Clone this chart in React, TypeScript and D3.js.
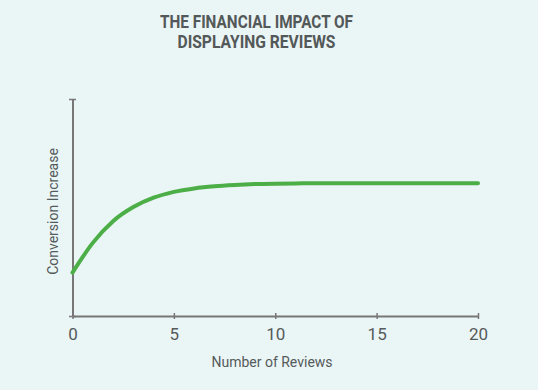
import React, { useEffect, useRef } from "react";
import * as d3 from "d3";

const W = 538;
const H = 390;

// number of reviews -> conversion increase (0..100 axis units)
const reviews = [0, 1, 2, 3, 4, 5, 6, 7, 8, 9, 10, 11, 12, 13, 14, 15, 16, 17, 18, 19, 20];
const conversion = [
  20.0, 33.7, 43.7, 50.2, 54.5, 57.2, 58.8, 59.8, 60.4, 60.8, 61.0, 61.1, 61.2, 61.2,
  61.2, 61.2, 61.2, 61.2, 61.2, 61.2, 61.2,
];
const xTicks = [0, 5, 10, 15, 20];
const titleLines = ["THE FINANCIAL IMPACT OF", "DISPLAYING REVIEWS"];
const titleWidths = [193, 158];

export default function App() {
  const ref = useRef<SVGSVGElement>(null);

  useEffect(() => {
    const svg = d3.select(ref.current);
    svg.selectAll("*").remove();

    svg.append("rect").attr("width", W).attr("height", H).attr("fill", "#eaf5f6");

    const x = d3.scaleLinear().domain([0, 20]).range([72.5, 478]);
    const y = d3.scaleLinear().domain([0, 100]).range([316, 99]);

    // title (condensed look via textLength)
    svg
      .append("g")
      .selectAll("text")
      .data(titleLines)
      .join("text")
      .attr("x", 256.5)
      .attr("y", (d, i) => 28 + i * 20)
      .attr("text-anchor", "middle")
      .attr("font-family", "Roboto, sans-serif")
      .attr("font-weight", "bold")
      .attr("font-size", 18.5)
      .attr("fill", "#535858")
      .attr("textLength", (d, i) => titleWidths[i])
      .attr("lengthAdjust", "spacingAndGlyphs")
      .text((d) => d);

    // x axis
    const xAxis = svg
      .append("g")
      .attr("transform", `translate(0, ${y(0)})`)
      .call(d3.axisBottom(x).tickValues(xTicks).tickSize(3).tickSizeOuter(0));
    xAxis.select(".domain").attr("stroke", "#777").attr("stroke-width", 2);
    xAxis
      .selectAll(".tick line")
      .attr("y1", -3)
      .attr("y2", 3)
      .attr("stroke", "#777")
      .attr("stroke-width", 1.5);
    xAxis
      .selectAll(".tick text")
      .attr("y", 24)
      .attr("dy", 0)
      .attr("font-family", "Roboto, sans-serif")
      .attr("font-size", 17)
      .attr("fill", "#555a5a");

    // y axis
    const yAxis = svg
      .append("g")
      .attr("transform", `translate(${x(0)}, 0)`)
      .call(d3.axisLeft(y).tickValues([0, 100]).tickFormat(() => "").tickSize(3).tickSizeOuter(0));
    yAxis.select(".domain").attr("stroke", "#777").attr("stroke-width", 2);
    yAxis
      .selectAll(".tick line")
      .attr("x1", -3.5)
      .attr("x2", 3.5)
      .attr("stroke", "#777")
      .attr("stroke-width", 1.5);

    // labels
    svg
      .append("text")
      .attr("x", 272)
      .attr("y", 367)
      .attr("text-anchor", "middle")
      .attr("font-family", "Roboto, sans-serif")
      .attr("font-size", 14)
      .attr("fill", "#555a5a")
      .text("Number of Reviews");

    svg
      .append("text")
      .attr("transform", "translate(58, 211.5) rotate(-90)")
      .attr("text-anchor", "middle")
      .attr("font-family", "Roboto, sans-serif")
      .attr("font-size", 14)
      .attr("fill", "#555a5a")
      .text("Conversion Increase");

    // curve
    const line = d3
      .line<number>()
      .x((d, i) => x(reviews[i]))
      .y((d) => y(d))
      .curve(d3.curveMonotoneX);

    svg
      .append("path")
      .datum(conversion)
      .attr("d", line)
      .attr("fill", "none")
      .attr("stroke", "#4cae47")
      .attr("stroke-width", 4)
      .attr("stroke-linecap", "round");
  });

  return (
    <div style={{ position: "absolute", left: 0, top: 0 }}>
      <svg ref={ref} width={W} height={H} style={{ display: "block" }} />
    </div>
  );
}
